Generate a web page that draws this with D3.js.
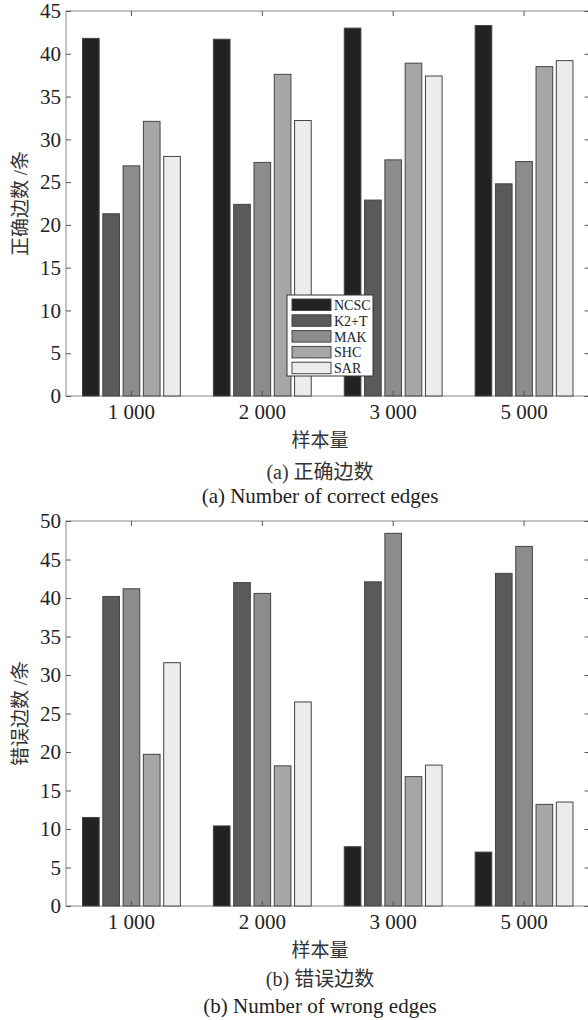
<!DOCTYPE html>
<html>
<head>
<meta charset="utf-8">
<script src="https://cdn.jsdelivr.net/npm/d3@7"></script>
<style>
  body { margin: 0; background: #fff; }
  svg { display: block; }
  .cap { font-family: "Liberation Serif", serif; font-size: 21px; fill: #222; text-anchor: middle; }
  .cjk { font-family: "Liberation Serif", "Noto Sans CJK SC", serif; font-size: 19px; fill: #333; text-anchor: middle; }
</style>
</head>
<body>
<div id="chart"></div>
<script>
// categories and series
var categories = ['1 000', '2 000', '3 000', '5 000'];
var seriesNames = ['NCSC', 'K2+T', 'MAK', 'SHC', 'SAR'];
var seriesColors = ['#222222', '#5a5a5a', '#8c8c8c', '#a6a6a6', '#ececec'];

// (a) correct edges
var correctNCSC = [41.8, 41.7, 43.0, 43.3];
var correctK2T = [21.3, 22.4, 22.9, 24.8];
var correctMAK = [26.9, 27.3, 27.6, 27.4];
var correctSHC = [32.1, 37.6, 38.9, 38.5];
var correctSAR = [28.0, 32.2, 37.4, 39.2];
var correctTicks = [0, 5, 10, 15, 20, 25, 30, 35, 40, 45];

// (b) wrong edges
var wrongNCSC = [11.5, 10.4, 7.7, 7.0];
var wrongK2T = [40.2, 42.0, 42.1, 43.2];
var wrongMAK = [41.2, 40.6, 48.4, 46.7];
var wrongSHC = [19.7, 18.2, 16.8, 13.2];
var wrongSAR = [31.6, 26.5, 18.3, 13.5];
var wrongTicks = [0, 5, 10, 15, 20, 25, 30, 35, 40, 45, 50];

var width = 588, height = 1020;
var left = 66, right = 589.5;

var svg = d3.select('#chart').append('svg')
    .attr('width', width)
    .attr('height', height);

svg.append('rect').attr('width', width).attr('height', height).attr('fill', '#fff');

var xScale = d3.scaleBand().domain(categories).range([left, right]).padding(0);
var innerScale = d3.scaleBand().domain(seriesNames)
    .range([-50.75, 50.75]).paddingInner(0.18).paddingOuter(0.09);
var color = d3.scaleOrdinal().domain(seriesNames).range(seriesColors);

function styleAxis(sel) {
    sel.select('.domain').remove();
    sel.selectAll('line').attr('stroke', '#555');
    sel.selectAll('text')
        .style('font-family', '"Liberation Serif", "Times New Roman", serif')
        .style('font-size', '21px')
        .style('fill', '#222');
}

function panel(opts) {
    var yScale = d3.scaleLinear().domain([0, opts.max]).range([opts.bottom, opts.top]);
    var g = svg.append('g');

    // table: one row per category
    var rows = categories.map(function (c, i) {
        return seriesNames.map(function (s, j) {
            return { cat: c, key: s, value: opts.series[j][i] };
        });
    });

    // plot box
    g.append('rect')
        .attr('x', left).attr('y', opts.top)
        .attr('width', right - left).attr('height', opts.bottom - opts.top)
        .attr('fill', 'none').attr('stroke', '#8a8a8a').attr('stroke-width', 1);

    // bars
    var groups = g.selectAll('g.grp').data(rows).enter().append('g')
        .attr('class', 'grp')
        .attr('transform', function (d, i) {
            return 'translate(' + (xScale(categories[i]) + xScale.bandwidth() / 2) + ',0)';
        });
    groups.selectAll('rect').data(function (d) { return d; }).enter().append('rect')
        .attr('x', function (d) { return innerScale(d.key); })
        .attr('width', innerScale.bandwidth())
        .attr('y', function (d) { return yScale(d.value); })
        .attr('height', function (d) { return opts.bottom - yScale(d.value); })
        .attr('fill', function (d) { return color(d.key); })
        .attr('stroke', '#444')
        .attr('stroke-width', 1);

    // axes (ticks inward)
    var yAxis = d3.axisLeft(yScale).tickValues(opts.ticks).tickSizeInner(-5).tickSizeOuter(0).tickPadding(5);
    g.append('g').attr('transform', 'translate(' + left + ',0)').call(yAxis).call(styleAxis);

    var yRight = d3.axisRight(yScale).tickValues(opts.ticks).tickSizeInner(-5).tickSizeOuter(0).tickFormat('');
    g.append('g').attr('transform', 'translate(' + right + ',0)').call(yRight).call(styleAxis);

    var xAxis = d3.axisBottom(xScale).tickSizeInner(-5).tickSizeOuter(0).tickPadding(8);
    g.append('g').attr('transform', 'translate(0,' + opts.bottom + ')').call(xAxis).call(styleAxis);

    var xTop = d3.axisTop(xScale).tickSizeInner(-5).tickSizeOuter(0).tickFormat('');
    g.append('g').attr('transform', 'translate(0,' + opts.top + ')').call(xTop).call(styleAxis);

    // titles
    g.append('text').attr('class', 'cjk')
        .attr('transform', 'translate(27,' + ((opts.top + opts.bottom) / 2) + ') rotate(-90)')
        .text(opts.yTitle);
    g.append('text').attr('class', 'cjk')
        .attr('x', 320).attr('y', opts.bottom + 44).attr('dy', '0.35em')
        .text('样本量');
    g.append('text').attr('class', 'cjk')
        .style('font-size', '20px')
        .attr('x', 320).attr('y', opts.bottom + opts.capGap).attr('dy', '0.35em')
        .text(opts.caption1);
    g.append('text').attr('class', 'cap')
        .attr('x', 320).attr('y', opts.bottom + 100).attr('dy', '0.35em')
        .text(opts.caption2);
    return g;
}

panel({
    top: 11, bottom: 396, max: 45, ticks: correctTicks,
    series: [correctNCSC, correctK2T, correctMAK, correctSHC, correctSAR],
    yTitle: '正确边数 /条', caption1: '(a) 正确边数', caption2: '(a) Number of correct edges', capGap: 76
});

panel({
    top: 521, bottom: 906, max: 50, ticks: wrongTicks,
    series: [wrongNCSC, wrongK2T, wrongMAK, wrongSHC, wrongSAR],
    yTitle: '错误边数 /条', caption1: '(b) 错误边数', caption2: '(b) Number of wrong edges', capGap: 73
});

// legend (top panel)
var legend = svg.append('g').attr('transform', 'translate(287,295)');
legend.append('rect').attr('width', 86).attr('height', 81)
    .attr('fill', '#fff').attr('stroke', '#333').attr('stroke-width', 1);
var items = legend.selectAll('g.item').data(seriesNames).enter().append('g')
    .attr('class', 'item')
    .attr('transform', function (d, i) { return 'translate(5,' + (4 + i * 15.8) + ')'; });
items.append('rect').attr('width', 39).attr('height', 11.5)
    .attr('fill', function (d) { return color(d); })
    .attr('stroke', '#444').attr('stroke-width', 1);
items.append('text').attr('x', 42).attr('y', 6).attr('dy', '0.35em')
    .style('font-family', '"Liberation Serif", serif').style('font-size', '14px').style('fill', '#222')
    .text(function (d) { return d; });
</script>
</body>
</html>
